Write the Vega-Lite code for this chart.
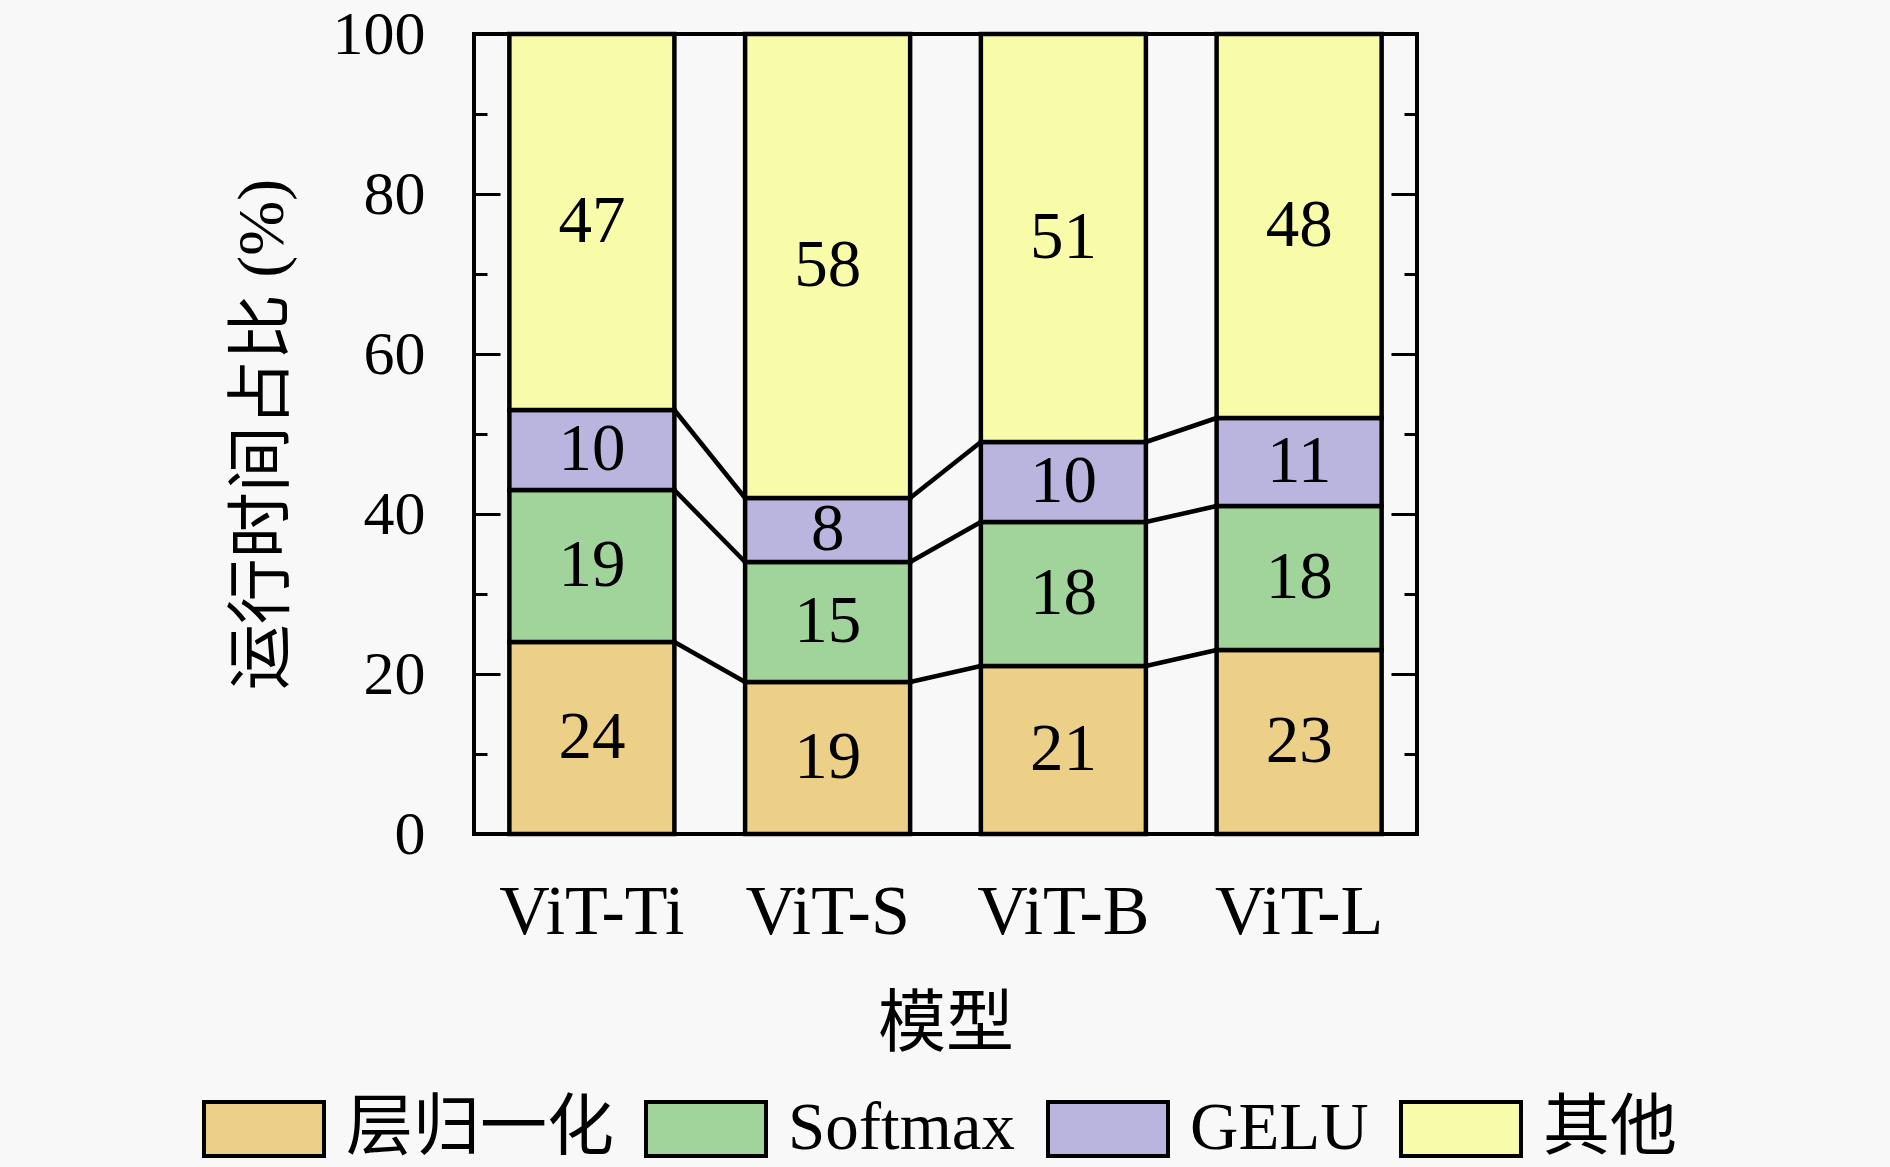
{
  "$schema": "https://vega.github.io/schema/vega-lite/v6.json",
  "autosize": {"type": "none"},
  "padding": {"left": 474, "top": 34, "right": 473, "bottom": 333},
  "width": 943,
  "height": 800,
  "background": "#f8f8f8",
  "config": {
    "view": {"stroke": "black", "strokeWidth": 4},
    "font": "Liberation Serif, Noto Sans CJK SC"
  },
  "datasets": {
    "main": [
      {"model": "ViT-Ti", "comp": "层归一化", "k": 1, "value": 24},
      {"model": "ViT-Ti", "comp": "Softmax", "k": 2, "value": 19},
      {"model": "ViT-Ti", "comp": "GELU", "k": 3, "value": 10},
      {"model": "ViT-Ti", "comp": "其他", "k": 4, "value": 47},
      {"model": "ViT-S", "comp": "层归一化", "k": 1, "value": 19},
      {"model": "ViT-S", "comp": "Softmax", "k": 2, "value": 15},
      {"model": "ViT-S", "comp": "GELU", "k": 3, "value": 8},
      {"model": "ViT-S", "comp": "其他", "k": 4, "value": 58},
      {"model": "ViT-B", "comp": "层归一化", "k": 1, "value": 21},
      {"model": "ViT-B", "comp": "Softmax", "k": 2, "value": 18},
      {"model": "ViT-B", "comp": "GELU", "k": 3, "value": 10},
      {"model": "ViT-B", "comp": "其他", "k": 4, "value": 51},
      {"model": "ViT-L", "comp": "层归一化", "k": 1, "value": 23},
      {"model": "ViT-L", "comp": "Softmax", "k": 2, "value": 18},
      {"model": "ViT-L", "comp": "GELU", "k": 3, "value": 11},
      {"model": "ViT-L", "comp": "其他", "k": 4, "value": 48}
    ],
    "conn": [
      {"from": "ViT-Ti", "to": "ViT-S", "a": 24, "b": 19},
      {"from": "ViT-Ti", "to": "ViT-S", "a": 43, "b": 34},
      {"from": "ViT-Ti", "to": "ViT-S", "a": 53, "b": 42},
      {"from": "ViT-S", "to": "ViT-B", "a": 19, "b": 21},
      {"from": "ViT-S", "to": "ViT-B", "a": 34, "b": 39},
      {"from": "ViT-S", "to": "ViT-B", "a": 42, "b": 49},
      {"from": "ViT-B", "to": "ViT-L", "a": 21, "b": 23},
      {"from": "ViT-B", "to": "ViT-L", "a": 39, "b": 41},
      {"from": "ViT-B", "to": "ViT-L", "a": 49, "b": 52}
    ]
  },
  "resolve": {"axis": {"y": "independent"}},
  "layer": [
    {
      "data": {"name": "main"},
      "mark": {"type": "bar", "stroke": "black", "strokeWidth": 4.5},
      "encoding": {
        "x": {
          "field": "model", "type": "nominal",
          "scale": {"domain": ["ViT-Ti", "ViT-S", "ViT-B", "ViT-L"], "paddingInner": 0.3, "paddingOuter": 0.15},
          "axis": {
            "title": "模型", "labelAngle": 0, "ticks": false, "domain": false,
            "labelFontSize": 70, "labelPadding": 44, "labelColor": "black", "labelLimit": 400,
            "titleFontSize": 68, "titleFontWeight": "normal", "titlePadding": 44, "titleColor": "black"
          }
        },
        "y": {
          "field": "value", "type": "quantitative", "stack": "zero",
          "scale": {"domain": [0, 100], "nice": false},
          "axis": {
            "orient": "left",
            "title": "运行时间占比 (%)",
            "values": [0, 10, 20, 30, 40, 50, 60, 70, 80, 90, 100],
            "labelExpr": "datum.value % 20 === 0 ? datum.label : ''",
            "tickSize": {"condition": {"test": "datum.value % 20 === 0", "value": -26}, "value": -13},
            "tickWidth": 3, "tickColor": "black",
            "domain": false, "grid": false,
            "labelFontSize": 62, "labelPadding": 75, "labelColor": "black",
            "titleFontSize": 66, "titleFontWeight": "normal", "titlePadding": 36, "titleColor": "black"
          }
        },
        "color": {
          "field": "comp", "type": "nominal",
          "scale": {"domain": ["层归一化", "Softmax", "GELU", "其他"], "range": ["#edd088", "#a0d49a", "#bab5df", "#f8fca8"]},
          "legend": {
            "title": null, "orient": "none", "direction": "horizontal",
            "legendX": -272, "legendY": 1033,
            "symbolType": "M-1,-0.45H1V0.45H-1Z", "symbolSize": 14400,
            "symbolStrokeColor": "black", "symbolStrokeWidth": 4, "symbolOpacity": 1,
            "labelFontSize": 67, "labelOffset": 20, "columnPadding": 24, "labelColor": "black",
            "labelLimit": 400
          }
        },
        "order": {"field": "k", "type": "quantitative"}
      }
    },
    {
      "data": {"name": "conn"},
      "mark": {"type": "rule", "stroke": "black", "strokeWidth": 4.5},
      "encoding": {
        "x": {"field": "from", "type": "nominal", "bandPosition": 1},
        "x2": {"field": "to", "bandPosition": 0},
        "y": {
          "field": "a", "type": "quantitative",
          "axis": {
            "orient": "right", "title": null, "labels": false,
            "values": [0, 10, 20, 30, 40, 50, 60, 70, 80, 90, 100],
            "tickSize": {"condition": {"test": "datum.value % 20 === 0", "value": -26}, "value": -13},
            "tickWidth": 3, "tickColor": "black", "domain": false, "grid": false
          }
        },
        "y2": {"field": "b"}
      }
    },
    {
      "data": {"name": "main"},
      "transform": [
        {"stack": "value", "groupby": ["model"], "sort": [{"field": "k", "order": "ascending"}], "as": ["y0", "y1"]},
        {"calculate": "(datum.y0 + datum.y1) / 2", "as": "mid"}
      ],
      "mark": {"type": "text", "fontSize": 67, "color": "black", "baseline": "middle", "align": "center"},
      "encoding": {
        "x": {"field": "model", "type": "nominal"},
        "y": {"field": "mid", "type": "quantitative", "axis": null},
        "text": {"field": "value", "type": "quantitative"}
      }
    }
  ]
}
